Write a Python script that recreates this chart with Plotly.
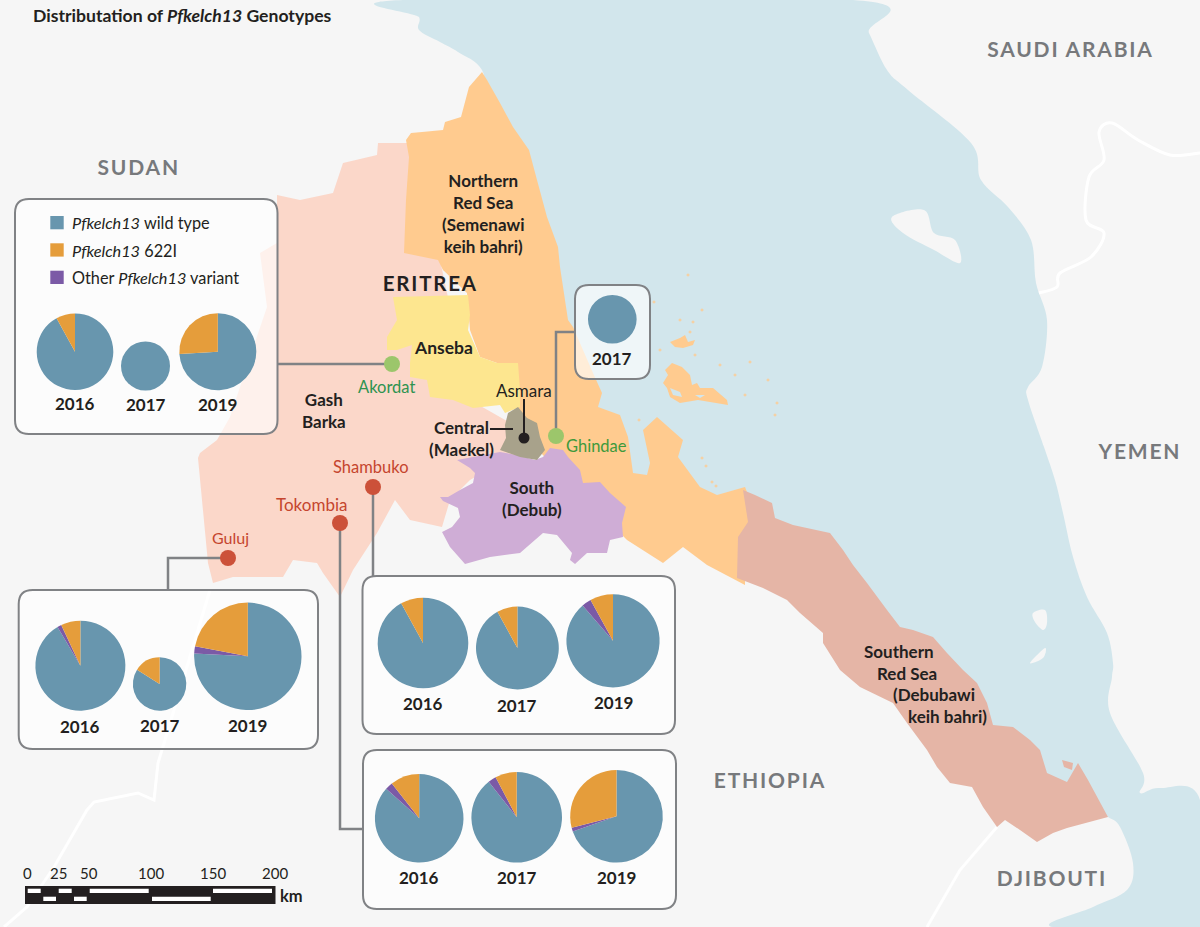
import plotly.graph_objects as go

W, H = 1200, 927
FONT = "Lato"

# genotype shares per site and year: wild type, other variant, 622I (clockwise from 12 o'clock)
genotypes = ["Pfkelch13 wild type", "Other Pfkelch13 variant", "Pfkelch13 622I"]
slice_colors = ["#6896AE", "#7B5AA6", "#E59D3B"]

akordat_years = ["2016", "2017", "2019"]
akordat_wild = [92, 100, 74]
akordat_other = [0, 0, 0]
akordat_622i = [8, 0, 26]

ghindae_years = ["2017"]
ghindae_wild = [100]
ghindae_other = [0]
ghindae_622i = [0]

guluj_years = ["2016", "2017", "2019"]
guluj_wild = [91.5, 84, 75.8]
guluj_other = [1.5, 0, 2.2]
guluj_622i = [7, 16, 22]

shambuko_years = ["2016", "2017", "2019"]
shambuko_wild = [92, 92, 88.7]
shambuko_other = [0, 0, 3.3]
shambuko_622i = [8, 8, 8]

tokombia_years = ["2016", "2017", "2019"]
tokombia_wild = [86.6, 89.4, 69.7]
tokombia_other = [2.8, 2.9, 1.3]
tokombia_622i = [10.6, 7.7, 29]

scale_km = [0, 25, 50, 100, 150, 200]

# layout of each pie group: (cx, cy, r) and the year label height
sites = [
    (akordat_years, akordat_wild, akordat_other, akordat_622i,
     [(75, 351.7, 38.3), (145.5, 366, 24.5), (217.8, 351.7, 38.5)], [403, 404, 404]),
    (ghindae_years, ghindae_wild, ghindae_other, ghindae_622i,
     [(612.3, 319.3, 24.3)], [358]),
    (guluj_years, guluj_wild, guluj_other, guluj_622i,
     [(80.4, 665.7, 45), (159.6, 684, 26.7), (247.8, 656.3, 53.7)], [726, 725, 725]),
    (shambuko_years, shambuko_wild, shambuko_other, shambuko_622i,
     [(423, 643, 45.3), (517.4, 648, 41.4), (613, 640.8, 46.6)], [703, 705, 702]),
    (tokombia_years, tokombia_wild, tokombia_other, tokombia_622i,
     [(419.2, 818.3, 44.3), (516.7, 817.3, 45.3), (616.5, 816.3, 46.3)], [877, 877, 877]),
]

# map outlines, traced in picture coordinates
# the sea runs a little under the regions so the regions give the Eritrean coast
sea = [(403, 0), (419, 17), (419, 30), (440, 42), (458, 52), (482, 70), (490, 110), (515, 170), (530, 220),
       (540, 265), (555, 335), (575, 385), (590, 420), (615, 445), (620, 490), (700, 520), (745, 515),
       (800, 545), (835, 570), (870, 620), (925, 660), (960, 700), (985, 745), (1040, 775), (1085, 805),
       (1108, 817), (1120, 827), (1133, 863), (1127, 890), (1093, 907), (1053, 927), (1200, 927), (1200, 800),
       (1160, 788), (1140, 793), (1143, 773), (1110, 713), (1112, 677), (1113, 663), (1107, 633), (1087, 597),
       (1073, 557), (1063, 513), (1055, 480), (1044, 447), (1028, 400), (1028, 387), (1042, 367), (1047, 320),
       (1036, 283), (1031, 240), (1008, 207), (981, 180), (971, 143), (908, 90), (887, 70), (869, 33), (853, 0)]
gash_barka = [(277, 195), (300, 200), (333, 193), (343, 163), (377, 155), (378, 143), (407, 143),
              (440, 260), (470, 400), (540, 440), (470, 480), (450, 500), (442, 527), (410, 520),
              (395, 500), (377, 533), (353, 570), (340, 597), (323, 573), (317, 563), (293, 560),
              (283, 577), (233, 577), (213, 583), (208, 563), (198, 458), (200, 453), (217, 440),
              (230, 417), (250, 357), (267, 307), (260, 253), (277, 243)]
northern_red_sea = [(406, 140), (411, 133), (422, 132), (443, 130), (445, 122), (461, 117), (469, 87), (482, 72),
                    (487, 80), (500, 103), (513, 127), (529, 150), (537, 180), (547, 217), (558, 247), (560, 267),
                    (568, 320), (573, 327), (593, 373), (602, 393), (598, 407), (620, 415), (628, 437), (633, 473),
                    (647, 475), (650, 463), (643, 430), (657, 417), (683, 440), (678, 457), (700, 487), (717, 495),
                    (745, 487), (750, 500), (755, 520), (745, 540), (745, 585), (707, 565), (683, 547), (663, 563),
                    (627, 540), (580, 493), (540, 452), (535, 437), (515, 407), (518, 363), (497, 363), (480, 357),
                    (470, 330), (467, 293), (443, 270), (438, 260), (404, 253), (406, 200), (409, 157)]
anseba = [(393, 297), (468, 295), (470, 315), (468, 330), (480, 357), (497, 363), (518, 363), (520, 390),
          (520, 407), (505, 413), (500, 405), (473, 408), (453, 400), (430, 397), (427, 380), (410, 377),
          (410, 363), (412, 345), (397, 350), (387, 350), (387, 337), (397, 320)]
central = [(518, 407), (527, 418), (537, 423), (540, 437), (545, 450), (537, 460), (520, 457), (500, 450),
           (506, 438), (505, 425), (508, 413)]
south = [(457, 460), (470, 468), (475, 473), (473, 483), (460, 490), (448, 497), (440, 497), (443, 501),
         (458, 508), (460, 517), (452, 527), (442, 532), (450, 547), (465, 564), (490, 557), (520, 553),
         (543, 533), (557, 535), (572, 553), (570, 560), (575, 564), (587, 553), (607, 553), (610, 540),
         (623, 537), (622, 523), (626, 507), (610, 493), (600, 482), (583, 483), (580, 470), (568, 457),
         (563, 450), (550, 448), (543, 457), (535, 460), (517, 455), (500, 452)]
southern_red_sea = [(743, 490), (755, 495), (772, 503), (775, 518), (793, 525), (830, 533), (843, 550), (853, 565),
                    (867, 583), (887, 610), (900, 627), (913, 630), (933, 637), (947, 653), (963, 670), (977, 683),
                    (987, 703), (993, 725), (1013, 727), (1030, 740), (1040, 750), (1047, 773), (1067, 782),
                    (1078, 763), (1088, 780), (1108, 817), (1067, 828), (1053, 833), (1037, 842), (1020, 830),
                    (1005, 820), (997, 827), (983, 807), (972, 787), (950, 783), (937, 767), (927, 750), (907, 723),
                    (893, 703), (860, 687), (840, 670), (823, 643), (823, 633), (800, 613), (787, 600), (763, 588),
                    (737, 578), (738, 537), (748, 522)]
bay_island = [(1062, 760), (1073, 763), (1072, 770), (1064, 767)]
dahlak_main = [(663, 383), (668, 375), (665, 370), (672, 363), (682, 367), (690, 375), (692, 385), (697, 383),
               (700, 388), (713, 388), (727, 400), (728, 405), (710, 402), (698, 400), (680, 403), (670, 397),
               (667, 388)]
dahlak_holes = [[(670, 388), (680, 392), (682, 397), (673, 395)], [(695, 395), (705, 395), (700, 398)]]
dahlak_north = [(670, 342), (680, 338), (685, 335), (688, 342), (695, 340), (693, 345), (683, 348), (675, 347)]
dahlak_islets = [(688, 275), (654, 302), (693, 322), (690, 332), (702, 310), (750, 362), (777, 403), (775, 415),
                 (702, 458), (706, 466), (712, 482), (716, 486), (639, 420), (735, 375), (720, 365), (745, 395),
                 (768, 380), (680, 320), (695, 355), (660, 350)]
land_islands = [
    [(892, 217), (924, 210), (934, 233), (955, 240), (960, 263), (934, 250), (903, 233)],
    [(1033, 613), (1045, 610), (1047, 623), (1043, 630), (1035, 622)],
    [(1030, 663), (1045, 648), (1043, 658)],
]
sudan_ethiopia = [(210, 590), (165, 740), (158, 763), (154, 800), (138, 793), (94, 802), (87, 810),
                  (54, 867), (27, 907), (4, 927)]
ethiopia_djibouti = [(997, 827), (960, 870), (927, 927)]
saudi_yemen = [(1200, 153), (1170, 155), (1138, 140), (1112, 123), (1099, 132), (1104, 160), (1089, 177),
               (1086, 220), (1104, 233), (1091, 257), (1060, 273), (1057, 287), (1039, 293)]


def smooth(points, closed=True):
    # catmull-rom through the traced points, used for the long open coast only
    n = len(points)
    path = f"M {points[0][0]},{points[0][1]}"
    for i in range(n if closed else n - 1):
        if closed:
            p0, p1, p2, p3 = points[i - 1], points[i], points[(i + 1) % n], points[(i + 2) % n]
        else:
            p0, p1, p2, p3 = points[max(i - 1, 0)], points[i], points[i + 1], points[min(i + 2, n - 1)]
        c1 = (p1[0] + (p2[0] - p0[0]) / 6, p1[1] + (p2[1] - p0[1]) / 6)
        c2 = (p2[0] - (p3[0] - p1[0]) / 6, p2[1] - (p3[1] - p1[1]) / 6)
        path += f" C {c1[0]:.1f},{c1[1]:.1f} {c2[0]:.1f},{c2[1]:.1f} {p2[0]},{p2[1]}"
    return path + " Z" if closed else path


def straight(points):
    return "M " + " L ".join(f"{x},{y}" for x, y in points)


def poly(points):
    return straight(points) + " Z"


def islet(x, y, s=1.8):
    return poly([(x - s, y), (x, y - s), (x + s, y), (x, y + s)])


def rounded_box(x0, y0, x1, y1, r=14):
    return (f"M {x0+r},{y0} L {x1-r},{y0} Q {x1},{y0} {x1},{y0+r} L {x1},{y1-r} Q {x1},{y1} {x1-r},{y1} "
            f"L {x0+r},{y1} Q {x0},{y1} {x0},{y1-r} L {x0},{y0+r} Q {x0},{y0} {x0+r},{y0} Z")


def fill_shape(path, color, opacity=1):
    return dict(type="path", path=path, xref="x", yref="y", layer="below", fillcolor=color,
                opacity=opacity, line=dict(width=0))


def line_shape(path, color="#808285", width=2.5):
    return dict(type="path", path=path, xref="x", yref="y", layer="below",
                line=dict(color=color, width=width))


def rect_shape(x0, y0, x1, y1, color):
    return dict(type="rect", x0=x0, y0=y0, x1=x1, y1=y1, xref="x", yref="y", layer="below",
                fillcolor=color, line=dict(width=0))


shapes = [fill_shape(smooth(sea), "#D2E6EC")]
for isl in land_islands:
    shapes.append(fill_shape(smooth(isl), "#F6F6F6"))
shapes.append(fill_shape(poly(dahlak_main), "#FFCB8F"))
for hole in dahlak_holes:
    shapes.append(fill_shape(poly(hole), "#D2E6EC"))
shapes.append(fill_shape(poly(dahlak_north), "#FFCB8F"))
for x, y in dahlak_islets:
    shapes.append(fill_shape(islet(x, y), "#FFCB8F", 0.8))
shapes.append(line_shape(straight(sudan_ethiopia), "#FFFFFF", 3))
shapes.append(line_shape(straight(ethiopia_djibouti), "#FFFFFF", 3))
shapes.append(line_shape(smooth(saudi_yemen, closed=False), "#FFFFFF", 3))

shapes.append(fill_shape(poly(gash_barka), "#FBD7C9"))
shapes.append(fill_shape(poly(northern_red_sea), "#FFCB8F"))
shapes.append(fill_shape(poly(anseba), "#FDE68F"))
shapes.append(fill_shape(poly(southern_red_sea), "#E5B5A6"))
shapes.append(fill_shape(poly(bay_island), "#E5B5A6"))
shapes.append(fill_shape(poly(south), "#CFADD6"))
shapes.append(fill_shape(poly(central), "#A8A28B"))

# leader lines go under the boxes
shapes.append(line_shape(straight([(278, 364), (392, 364)])))
shapes.append(line_shape(straight([(556, 436), (556, 332), (575, 332)])))
shapes.append(line_shape(straight([(228, 558), (168, 558), (168, 590)])))
shapes.append(line_shape(straight([(340, 523), (340, 829), (363, 829)])))
shapes.append(line_shape(straight([(373, 487), (373, 576)])))
shapes.append(line_shape(straight([(524, 399), (524, 438)]), "#231F20", 2))
shapes.append(line_shape(straight([(490, 429), (513, 429)]), "#231F20", 2))

# inset boxes
for x0, y0, x1, y1 in [(15, 199, 277.5, 434), (575, 285, 650, 379), (18.7, 590, 318, 749),
                       (362.5, 576, 675, 734), (363, 750, 676, 909)]:
    shapes.append(dict(type="path", path=rounded_box(x0, y0, x1, y1), xref="x", yref="y", layer="below",
                       fillcolor="rgba(255,255,255,0.65)", line=dict(color="#808285", width=2)))

# legend swatches
for y0, color in [(216, slice_colors[0]), (243.3, slice_colors[2]), (270.7, slice_colors[1])]:
    shapes.append(rect_shape(50.3, y0, 63.7, y0 + 13.3, color))

# scale bar
shapes.append(rect_shape(25, 886, 275.5, 904, "#231F20"))
for x0, x1 in [(27.7, 40.7), (58.7, 71.7), (89.7, 148.7), (213, 272)]:
    shapes.append(rect_shape(x0, 888.7, x1, 893, "#FFFFFF"))
for x0, x1 in [(43.3, 56), (74, 86.7), (152, 210.7)]:
    shapes.append(rect_shape(x0, 896.7, x1, 901, "#FFFFFF"))

fig = go.Figure()

# site markers
fig.add_trace(go.Scatter(x=[392, 556], y=[364, 436], mode="markers", hoverinfo="skip",
                         marker=dict(size=16, color="#9CC66B"), showlegend=False))
fig.add_trace(go.Scatter(x=[228, 340, 373], y=[558, 523, 487], mode="markers", hoverinfo="skip",
                         marker=dict(size=16, color="#CC5139"), showlegend=False))
fig.add_trace(go.Scatter(x=[524], y=[438], mode="markers", hoverinfo="skip",
                         marker=dict(size=11, color="#231F20"), showlegend=False))

annotations = []


def label(x, y, text, size=17, color="#231F20", anchor="center"):
    annotations.append(dict(x=x, y=y, xref="x", yref="y", text=text, showarrow=False, xanchor=anchor,
                            yanchor="middle", align="center" if anchor == "center" else "left",
                            font=dict(family=FONT, size=size, color=color)))


for years, wild, other, i622, places, label_y in sites:
    for i, year in enumerate(years):
        cx, cy, r = places[i]
        fig.add_trace(go.Pie(labels=genotypes, values=[wild[i], other[i], i622[i]], sort=False,
                             direction="clockwise", rotation=0, textinfo="none", hoverinfo="label+percent",
                             marker=dict(colors=slice_colors, line=dict(width=0)), showlegend=False,
                             domain=dict(x=[(cx - r) / W, (cx + r) / W],
                                         y=[1 - (cy + r) / H, 1 - (cy - r) / H])))
        label(cx, label_y[i], f"<b>{year}</b>", 17)

label(31, 15, "<b>Distributation of <i>Pfkelch13</i> Genotypes</b>", 17.6, anchor="left")

label(70, 222, "<i>Pfkelch13</i> wild type", 16.3, anchor="left")
label(70, 250, "<i>Pfkelch13</i> 622I", 16.3, anchor="left")
label(70, 277, "Other <i>Pfkelch13</i> variant", 16.3, anchor="left")

gray = "#77797C"
label(138, 166, "<b>SUDAN</b>", 21, gray)
label(1070, 48, "<b>SAUDI ARABIA</b>", 21, gray)
label(1139, 450, "<b>YEMEN</b>", 21, gray)
label(770, 779, "<b>ETHIOPIA</b>", 21, gray)
label(1052, 877, "<b>DJIBOUTI</b>", 21, gray)

label(430, 283, "<b>ERITREA</b>", 20.5)
label(483, 213, "<b>Northern<br>Red Sea<br>(Semenawi<br>keih bahri)</b>")
label(443, 347, "<b>Anseba</b>", 17.5)
label(324, 410, "<b>Gash<br>Barka</b>")
label(461, 438, "<b>Central<br>(Maekel)</b>")
label(532, 498, "<b>South<br>(Debub)</b>")
label(899, 651, "<b>Southern</b>")
label(907, 673, "<b>Red Sea</b>")
label(934, 694, "<b>(Debubawi</b>")
label(947, 716, "<b>keih bahri)</b>")

label(524, 390, "Asmara", 17)
green = "#2E9350"
red = "#C5452E"
label(386, 387, "Akordat", 16.5, green)
label(596, 446, "Ghindae", 16.5, "#3E9A3C")
label(371, 467, "Shambuko", 16.5, red)
label(311, 504, "Tokombia", 17, red)
label(230, 537, "Guluj", 16, red)

# scale labels follow the bar: 1.24 px per km
for km in scale_km:
    label(27 + km * 1.24, 873, str(km), 15)
label(291, 896, "<b>km</b>", 16.5)

fig.update_layout(
    width=W, height=H, margin=dict(l=0, r=0, t=0, b=0),
    paper_bgcolor="#F6F6F6", plot_bgcolor="#F6F6F6",
    shapes=shapes, annotations=annotations, showlegend=False,
    xaxis=dict(range=[0, W], visible=False, fixedrange=True),
    yaxis=dict(range=[H, 0], visible=False, fixedrange=True),
)

# plotly has no letter spacing option, the capitals are tracked out here
tracking = """
document.body.style.margin = '0';
document.querySelectorAll('.annotation-text').forEach(function (t) {
    var s = t.textContent;
    if (s.length > 3 && s === s.toUpperCase() && /[A-Z]/.test(s)) { t.style.letterSpacing = '1.8px'; }
});
"""
fig.write_html("out.html", post_script=tracking, config={"displayModeBar": False})
